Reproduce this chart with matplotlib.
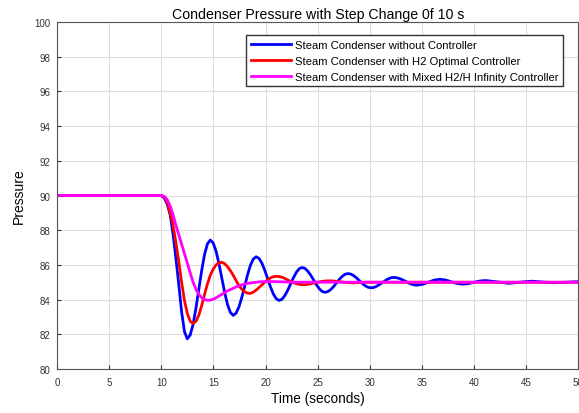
import matplotlib
matplotlib.use('Agg')
import matplotlib.pyplot as plt

plt.rcParams['font.family'] = ['Liberation Sans', 'DejaVu Sans']

# time samples (s) for the uncontrolled response
t_blue = [0, 10.0,
          10.3, 10.575, 10.85, 11.125, 11.4, 11.675, 11.95, 12.225,
          12.5, 12.775, 13.05, 13.325, 13.6, 13.875, 14.15, 14.425,
          14.7, 14.975, 15.25, 15.525, 15.8, 16.075, 16.35, 16.625,
          16.9, 17.175, 17.45, 17.725, 18.0, 18.275, 18.55, 18.825,
          19.1, 19.375, 19.65, 19.925, 20.2, 20.475, 20.75, 21.025,
          21.3, 21.575, 21.85, 22.125, 22.4, 22.675, 22.95, 23.225,
          23.5, 23.775, 24.05, 24.325, 24.6, 24.875, 25.15, 25.425,
          25.7, 25.975, 26.25, 26.525, 26.8, 27.075, 27.35, 27.625,
          27.9, 28.175, 28.45, 28.725, 29.0, 29.275, 29.55, 29.825,
          30.1, 30.375, 30.65, 30.925, 31.2, 31.475, 31.75, 32.025,
          32.3, 32.575, 32.85, 33.125, 33.4, 33.675, 33.95, 34.225,
          34.5,
          35.05, 35.6, 36.15, 36.7, 37.25, 37.8, 38.35, 38.9, 39.45, 40.0, 40.55, 41.1,
          42.2, 43.3, 44.4, 45.5, 46.6, 47.7, 48.8, 49.9, 50.0]

no_ctrl = [90, 90,
           89.85, 89.5, 88.9, 87.8, 86.4, 84.9, 83.3, 82.15,
           81.74, 81.96, 82.57, 83.50, 84.59, 85.67, 86.60, 87.21,
           87.43, 87.27, 86.80, 86.09, 85.26, 84.43, 83.72, 83.26,
           83.09, 83.22, 83.58, 84.13, 84.78, 85.43, 85.98, 86.34,
           86.47, 86.37, 86.10, 85.69, 85.21, 84.73, 84.32, 84.05,
           83.95, 84.02, 84.23, 84.54, 84.90, 85.26, 85.57, 85.78,
           85.85, 85.80, 85.64, 85.41, 85.14, 84.86, 84.63, 84.47,
           84.42, 84.46, 84.58, 84.75, 84.96, 85.17, 85.34, 85.46,
           85.50, 85.47, 85.38, 85.25, 85.09, 84.93, 84.80, 84.71,
           84.68, 84.70, 84.77, 84.87, 84.98, 85.09, 85.19, 85.26,
           85.28, 85.26, 85.21, 85.14, 85.06, 84.97, 84.90, 84.85,
           84.83,
           84.88, 85.00, 85.12, 85.17, 85.13, 85.03, 84.93, 84.89, 84.92, 85.00, 85.07, 85.10,
           85.02, 84.94, 85.00, 85.06, 85.01, 84.97, 85.00, 85.03, 85.03]

# H2 optimal controller (settled after ~29.5 s)
t_h2 = t_blue[:73] + [50.0]
h2 = [90, 90,
      89.9, 89.6, 89.0, 88.3, 87.3, 86.2, 85.0, 83.95,
      83.2, 82.75, 82.62, 82.75, 83.1, 83.65, 84.3, 84.9,
      85.4, 85.75, 86.0, 86.12, 86.15, 86.07, 85.9, 85.67,
      85.4, 85.1, 84.8, 84.6, 84.45, 84.37, 84.36, 84.43,
      84.55, 84.7, 84.85, 85.0, 85.15, 85.25, 85.32, 85.34,
      85.33, 85.29, 85.22, 85.13, 85.05, 84.98, 84.92, 84.88,
      84.86, 84.86, 84.88, 84.91, 84.95, 84.99, 85.02, 85.05,
      85.07, 85.08, 85.08, 85.07, 85.05, 85.03, 85.01, 84.99,
      84.98, 84.97, 84.97, 84.97, 84.98, 84.99, 85.0,
      85.0]

# mixed H2/H-infinity controller (settled after ~22.7 s)
t_mixed = t_blue[:48] + [50.0]
mixed = [90, 90,
         89.95, 89.75, 89.4, 88.9, 88.3, 87.75, 87.2, 86.65,
         86.1, 85.55, 85.0, 84.6, 84.3, 84.12, 84.0, 83.96,
         83.97, 84.02, 84.1, 84.2, 84.3, 84.4, 84.5, 84.58,
         84.65, 84.73, 84.8, 84.85, 84.9, 84.93, 84.96, 84.98,
         85.0, 85.02, 85.03, 85.035, 85.04, 85.04, 85.04, 85.035,
         85.03, 85.025, 85.02, 85.015, 85.01, 85.005,
         85.0]

labels = ['Steam Condenser without Controller',
          'Steam Condenser with H2 Optimal Controller',
          'Steam Condenser with Mixed H2/H Infinity Controller']

fig = plt.figure(figsize=(5.79, 4.14), dpi=100)
ax = fig.add_axes([0.0984, 0.1063, 0.9006, 0.8381])

ax.plot(t_blue, no_ctrl, color='#0000ff', lw=2, label=labels[0])
ax.plot(t_h2, h2, color='#ff0000', lw=2, label=labels[1])
ax.plot(t_mixed, mixed, color='#ff00ff', lw=2, label=labels[2])

ax.set_xlim(0, 50)
ax.set_ylim(80, 100)
ax.set_xticks(range(0, 51, 5))
ax.set_yticks(range(80, 101, 2))
ax.tick_params(direction='in', labelsize=7, colors='#333333', length=3)
ax.tick_params(axis='x', pad=6)
ax.tick_params(axis='y', pad=4.5)
ax.grid(True, color='#dddddd', lw=0.8)
for s in ax.spines.values():
    s.set_color('#555555')
    s.set_linewidth(0.8)

ax.set_title('Condenser Pressure with Step Change 0f 10 s', fontsize=10.2, pad=3)
ax.set_xlabel('Time (seconds)', fontsize=9.8, labelpad=3)
ax.set_ylabel('Pressure', fontsize=10, labelpad=6)

ax.legend(loc='upper right', bbox_to_anchor=(0.9724, 0.913),
          bbox_transform=fig.transFigure, fontsize=8.1, handlelength=3.6,
          fancybox=False, edgecolor='#333333', framealpha=1,
          borderaxespad=0, borderpad=0.4, handletextpad=0.35, labelspacing=0.55)

fig.savefig('out.png', dpi=100)
